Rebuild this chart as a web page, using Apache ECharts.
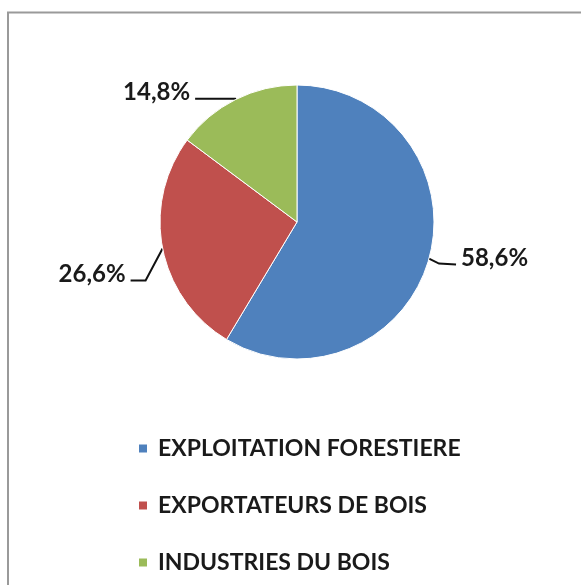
<!DOCTYPE html>
<html>
<head>
<meta charset="utf-8">
<style>
html,body{margin:0;padding:0;background:#fff;}
#chart{width:581px;height:585px;}
</style>
<script src="https://cdn.jsdelivr.net/npm/echarts@6/dist/echarts.min.js"></script>
</head>
<body>
<div id="chart"></div>
<script>
const categories = ['EXPLOITATION FORESTIERE', 'EXPORTATEURS DE BOIS', 'INDUSTRIES DU BOIS'];
const values = [58.6, 26.6, 14.8];
const colors = ['#4F81BD', '#C0504D', '#9BBB59'];

const chart = echarts.init(document.getElementById('chart'), null, {renderer: 'canvas'});
const font = 'Lato, "Open Sans", sans-serif';

// label leader line shapes, relative to where the line leaves the slice
const leaderBends = [
  [[10, 5], [27, 6]],
  [[-17, 32], [-32, 32]],
  null
];
const textLift = -6;

chart.setOption({
  animation: false,
  color: colors,
  graphic: [{
    type: 'polyline', z: -1,
    shape: {points: [[8, 800], [8, 12.5], [800, 12.5]]},
    style: {fill: null, stroke: '#9a9a9a', lineWidth: 2}
  }],
  legend: {
    orient: 'vertical',
    left: 137, top: 437,
    padding: 0,
    itemWidth: 10, itemHeight: 10, itemGap: 34,
    icon: 'rect',
    textStyle: {fontFamily: font, fontWeight: 'bold', fontSize: 23, lineHeight: 23, color: '#1a1a1a', padding: [0, 0, 0, 5]},
    data: categories
  },
  series: [{
    type: 'pie',
    center: [297, 222],
    radius: 137,
    startAngle: 90,
    clockwise: true,
    itemStyle: {borderColor: '#fff', borderWidth: 1},
    label: {
      show: true,
      formatter: p => p.value.toFixed(1).replace('.', ',') + '%',
      fontFamily: font, fontWeight: 'bold', fontSize: 24, color: '#1a1a1a',
      distanceToLabelLine: 5
    },
    labelLine: {show: true, length: 1, length2: 40, lineStyle: {color: '#111', width: 2}},
    labelLayout: p => {
      const bend = leaderBends[p.dataIndex];
      const pts = p.labelLinePoints;
      if (!bend || !pts) return {dy: textLift};
      const s = pts[0];
      const newPts = [s, [s[0] + bend[0][0], s[1] + bend[0][1]], [s[0] + bend[1][0], s[1] + bend[1][1]]];
      const oldEnd = pts[pts.length - 1];
      const newEnd = newPts[2];
      return {labelLinePoints: newPts, dx: newEnd[0] - oldEnd[0], dy: newEnd[1] - oldEnd[1] + textLift};
    },
    data: categories.map((c, i) => ({name: c, value: values[i]}))
  }]
});
</script>
</body>
</html>
